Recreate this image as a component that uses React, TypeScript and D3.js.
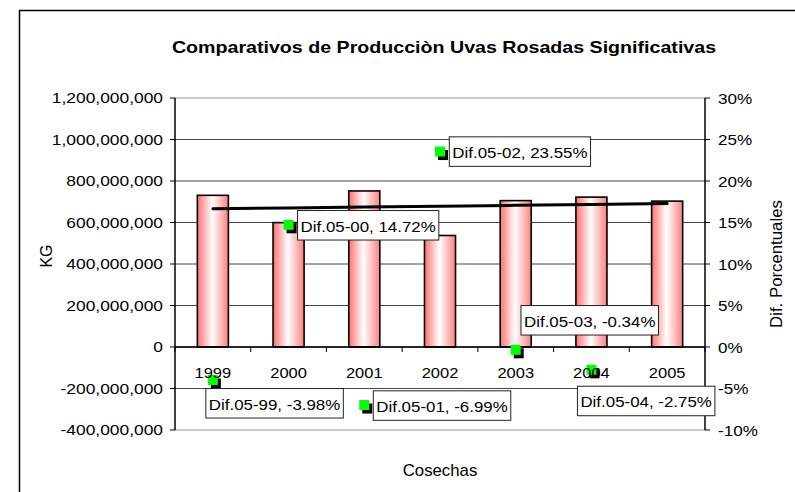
import React from "react";
import * as d3 from "d3";

// ---- data ----
const years: string[] = ["1999", "2000", "2001", "2002", "2003", "2004", "2005"];
const productionKg: number[] = [731000000, 599500000, 752100000, 537400000, 705400000, 722300000, 703000000];
const difYears: string[] = ["1999", "2000", "2001", "2002", "2003", "2004"];
const difNames: string[] = ["Dif.05-99", "Dif.05-00", "Dif.05-01", "Dif.05-02", "Dif.05-03", "Dif.05-04"];
const difPercent: number[] = [-3.98, 14.72, -6.99, 23.55, -0.34, -2.75];
const leftTicks: number[] = [-400000000, -200000000, 0, 200000000, 400000000, 600000000, 800000000, 1000000000, 1200000000];
const rightTicks: number[] = [-0.1, -0.05, 0, 0.05, 0.1, 0.15, 0.2, 0.25, 0.3];

const TITLE = "Comparativos de Producciòn Uvas Rosadas Significativas";
const X_TITLE = "Cosechas";
const Y_TITLE = "KG";
const Y2_TITLE = "Dif. Porcentuales";

// ---- layout ----
const W = 795;
const H = 492;
const PL = 175, PR = 705, PT = 98, PB = 430;
const FONT = "'Liberation Sans', Arial, sans-serif";
// manual label placement (px offsets of box top-left from the marker)
const LABEL_OFFSETS: [number, number][] = [[-7, 8.5], [9, -14.3], [9, -14.2], [9.3, -14.7], [5.3, -44.3], [-14, 16.4]];

const loc = d3.formatLocale({ decimal: ".", thousands: ",", grouping: [3], currency: ["$", ""], minus: "-" });
const fmtKg = loc.format(",");
const fmtPct = loc.format(".0%");

function T(props: any) {
  const { x, y, sx = 1, anchor = "start", size = 15, weight = "normal", rot = 0, children, fill = "#000" } = props;
  return (
    <text
      transform={`translate(${x},${y}) rotate(${rot}) scale(${sx},1)`}
      textAnchor={anchor}
      fontSize={size}
      fontWeight={weight}
      fontFamily={FONT}
      fill={fill}
    >
      {children}
    </text>
  );
}

const LABEL_FS = 15.5;
const LABEL_SX = 1.09;

function measure(t: string, size: number, weight = "normal"): number {
  const c = document.createElement("canvas").getContext("2d");
  if (!c) return t.length * size * 0.55;
  c.font = `${weight} ${size}px "Liberation Sans", Arial, sans-serif`;
  return c.measureText(t).width;
}

export default function App() {
  const x = d3.scaleBand<string>().domain(years).range([PL, PR]).padding(0);
  const y = d3.scaleLinear().domain([-400000000, 1200000000]).range([PB, PT]);
  const y2 = d3.scaleLinear().domain([-0.1, 0.3]).range([PB, PT]);
  const bw = x.bandwidth() * 0.41;
  const cx = (c: string) => (x(c) as number) + x.bandwidth() / 2;
  const y0 = y(0);

  // linear trendline of production
  const n = productionKg.length;
  const xs = d3.range(1, n + 1);
  const mx = d3.mean(xs) as number;
  const my = d3.mean(productionKg) as number;
  const slope =
    d3.sum(xs.map((v, i) => (v - mx) * (productionKg[i] - my))) / d3.sum(xs.map((v) => (v - mx) * (v - mx)));
  const icpt = my - slope * mx;
  const trend = d3
    .line<number>()
    .x((_, i) => cx(years[i]))
    .y((v) => y(icpt + slope * v));

  const labels = difYears.map((c, i) => {
    const text = `${difNames[i]}, ${difPercent[i].toFixed(2)}%`;
    const px = cx(c);
    const py = y2(difPercent[i] / 100);
    const tw = measure(text, LABEL_FS) * LABEL_SX;
    const [dx, dy] = LABEL_OFFSETS[i];
    return { text, px, py, bx: px + dx, by: py + dy, bwid: tw + 6 };
  });

  return (
    <svg width={W} height={H} style={{ position: "absolute", left: 0, top: 0 }}>
      <defs>
        <linearGradient id="barGrad" x1="0" x2="1" y1="0" y2="0">
          <stop offset="0%" stopColor="#ff7070" />
          <stop offset="48%" stopColor="#ffffff" />
          <stop offset="100%" stopColor="#ff8080" />
        </linearGradient>
      </defs>
      <rect x={0} y={0} width={W} height={H} fill="#fff" />
      <rect x={19.5} y={10.5} width={W + 10} height={H + 10} fill="#fff" stroke="#000" strokeWidth={1.5} />

      {/* title */}
      <T x={444} y={52.5} anchor="middle" size={16.5} weight="bold" sx={1.19}>
        {TITLE}
      </T>

      {/* gridlines */}
      {leftTicks.map((t) => (
        <line key={"g" + t} x1={PL} x2={PR} y1={y(t)} y2={y(t)} stroke={t === 1200000000 || t === -400000000 ? "#909090" : "#444"} strokeWidth={1} />
      ))}

      {/* bars */}
      {years.map((c, i) => (
        <rect
          key={"b" + c}
          x={cx(c) - bw / 2}
          y={y(productionKg[i])}
          width={bw}
          height={y0 - y(productionKg[i])}
          fill="url(#barGrad)"
          stroke="#000"
          strokeWidth={1.6}
        />
      ))}

      {/* trendline */}
      <path d={trend(xs) as string} fill="none" stroke="#000" strokeWidth={3} strokeLinecap="round" />

      {/* axes */}
      <line x1={PL} x2={PR} y1={y0} y2={y0} stroke="#000" strokeWidth={1.5} />
      {d3.range(0, years.length + 1).map((i) => {
        const xx = PL + i * x.step();
        return <line key={"ct" + i} x1={xx} x2={xx} y1={y0} y2={y0 + 5} stroke="#000" strokeWidth={1} />;
      })}
      <line x1={PL} x2={PL} y1={PT} y2={PB} stroke="#000" strokeWidth={1.5} />
      <line x1={PR} x2={PR} y1={PT} y2={PB} stroke="#000" strokeWidth={1.5} />
      {leftTicks.map((t) => (
        <line key={"lt" + t} x1={PL - 5} x2={PL} y1={y(t)} y2={y(t)} stroke="#000" strokeWidth={1} />
      ))}
      {rightTicks.map((t) => (
        <line key={"rt" + t} x1={PR} x2={PR + 5} y1={y2(t)} y2={y2(t)} stroke="#000" strokeWidth={1} />
      ))}

      {/* markers */}
      {difYears.map((c, i) => {
        const px = cx(c);
        const py = y2(difPercent[i] / 100);
        return (
          <g key={"m" + c}>
            <rect x={px - 5 + 3} y={py - 5 + 3.5} width={10} height={10} fill="#000" />
            <rect x={px - 5} y={py - 5} width={10} height={10} fill="#00ff00" />
          </g>
        );
      })}

      {/* category labels */}
      {years.map((c) => (
        <T key={"cl" + c} x={cx(c)} y={377.5} anchor="middle" size={15} sx={1.1}>
          {c}
        </T>
      ))}

      {/* left tick labels */}
      {leftTicks.map((t) => (
        <T key={"ll" + t} x={163} y={y(t) + 5} anchor="end" size={15} sx={1.16}>
          {fmtKg(t)}
        </T>
      ))}

      {/* data labels */}
      {labels.map((l) => (
        <g key={l.text}>
          <rect x={l.bx} y={l.by} width={l.bwid} height={29.5} fill="#fff" stroke="#222" strokeWidth={1} />
          <T x={l.bx + 3} y={l.by + 21} size={LABEL_FS} sx={LABEL_SX}>
            {l.text}
          </T>
        </g>
      ))}

      {/* right tick labels */}
      {rightTicks.map((t) => (
        <T key={"rl" + t} x={718} y={y2(t) + 5.5} size={15} sx={1.14}>
          {fmtPct(t)}
        </T>
      ))}

      {/* axis titles */}
      <T x={440} y={476} anchor="middle" size={16} sx={1.05}>
        {X_TITLE}
      </T>
      <T x={51.5} y={256} anchor="middle" size={16} rot={-90}>
        {Y_TITLE}
      </T>
      <T x={782} y={264} anchor="middle" size={16} sx={1.05} rot={-90}>
        {Y2_TITLE}
      </T>
    </svg>
  );
}
